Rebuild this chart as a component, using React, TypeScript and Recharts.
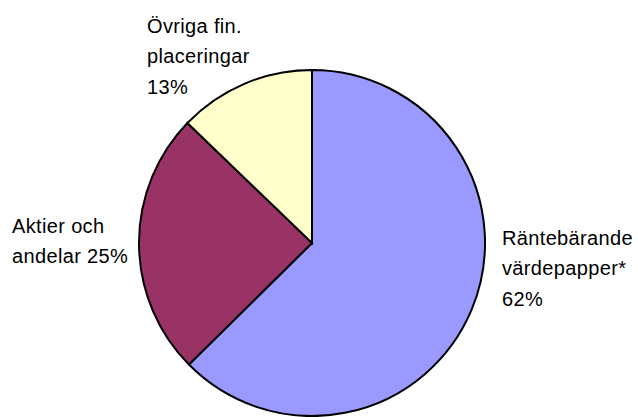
import { PieChart, Pie, Cell } from "recharts";

// Data
const categories = ["Räntebärande värdepapper*", "Aktier och andelar", "Övriga fin. placeringar"];
// shares as measured from the slice angles (labels show the rounded figures)
const shares = [62.6, 24.6, 12.8];
const labelLines = [
	["Räntebärande", "värdepapper*", "62%"],
	["Aktier och", "andelar 25%"],
	["Övriga fin.", "placeringar", "13%"],
];
const colors = ["#9999FF", "#993366", "#FFFFCC"];

const data = categories.map((name, i) => ({ name, value: shares[i] }));

// where each label block starts (x, first baseline)
const labelAnchors = [
	{ x: 502, y: 245 },
	{ x: 12, y: 233 },
	{ x: 147, y: 33 },
];

const renderLabel = (props: any) => {
	const anchor = labelAnchors[props.index];
	const lines = labelLines[props.index];
	return (
		<text
			x={anchor.x}
			y={anchor.y}
			fill="#000"
			fontSize={20}
			fontFamily="'Liberation Sans', Arial, sans-serif"
			letterSpacing={0.35}
			textAnchor="start"
		>
			{lines.map((line, i) => (
				<tspan key={i} x={anchor.x} y={anchor.y + i * 30.3}>
					{line}
				</tspan>
			))}
		</text>
	);
};

function App() {
	return (
		<div style={{ position: "absolute", left: 0, top: 0, background: "#fff" }}>
			<PieChart width={638} height={417} margin={{ top: 0, right: 0, bottom: 0, left: 0 }}>
				<Pie
					data={data}
					dataKey="value"
					nameKey="name"
					cx={312}
					cy={243}
					outerRadius={173}
					startAngle={90}
					endAngle={-270}
					stroke="#000"
					strokeWidth={2}
					label={renderLabel}
					labelLine={false}
					isAnimationActive={false}
				>
					{data.map((entry, i) => (
						<Cell key={entry.name} fill={colors[i]} />
					))}
				</Pie>
			</PieChart>
		</div>
	);
}

export default App;
